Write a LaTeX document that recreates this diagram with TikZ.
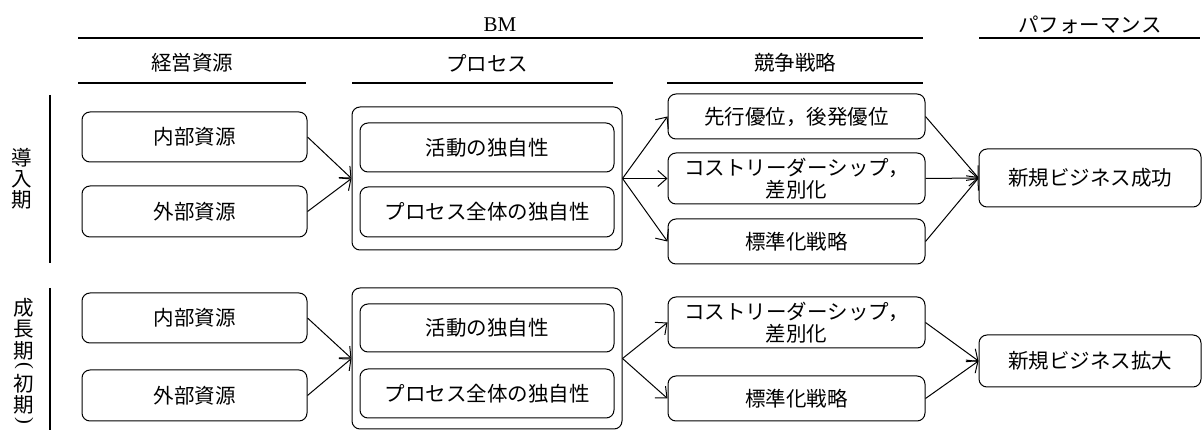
\documentclass[tikz,border=0pt]{standalone}
\usepackage{fontspec}
\setmainfont{Liberation Serif}
\newfontfamily\jp{Noto Sans CJK JP}
\usetikzlibrary{arrows.meta}
\tikzset{
  box/.style={draw, rounded corners=8pt, line width=1pt, inner sep=0pt, align=center,
    font=\jp\fontsize{20.5}{22}\selectfont},
  conn/.style={line width=1pt, -{Straight Barb[length=9pt,width=16pt,line width=1pt]}},
  rule/.style={line width=1.3pt},
  head/.style={font=\jp\fontsize{20.5}{22}\selectfont, inner sep=0pt},
  vlab/.style={font=\jp\fontsize{20.5}{22}\selectfont, inner sep=0pt}
}
\begin{document}
\begin{tikzpicture}[x=1pt,y=-1pt]
\useasboundingbox (0,0) rectangle (1203,430);
% headers
\node[head, font=\fontsize{21}{22}\selectfont] (hbm) at (500,25) {BM};
\draw[rule] (78,38) -- (923,38);
\node[head] (hperf) at (1090,25) {パフォーマンス};
\draw[rule] (979,38) -- (1200,38);
\node[head] (hres) at (192,63) {経営資源};
\draw[rule] (78,83) -- (306,83);
\node[head] (hproc) at (487,63) {プロセス};
\draw[rule] (352,83) -- (613,83);
\node[head] (hcomp) at (795,63) {競争戦略};
\draw[rule] (667,83) -- (923,83);
% period labels
\draw[rule] (50,95) -- (50,263);
\draw[rule] (50,288) -- (50,430);
\node[vlab] (l1) at (22,179) {\shortstack{導\\入\\期}};
\node[vlab] (l2) at (24,362) {\shortstack{成\\長\\期\\\rotatebox[origin=c]{-90}{\rmfamily(}\\初\\期\\\rotatebox[origin=c]{-90}{\rmfamily)}}};
% row 1
\node[box, minimum width=225pt, minimum height=50pt] (r1a) at (194.5,137) {内部資源};
\node[box, minimum width=225pt, minimum height=51pt] (r1b) at (194.5,211.5) {外部資源};
\node[box, minimum width=270pt, minimum height=143pt] (p1) at (487,178.5) {};
\node[box, minimum width=254pt, minimum height=49pt] (p1a) at (487,147.5) {活動の独自性};
\node[box, minimum width=254pt, minimum height=50pt] (p1b) at (487,212) {プロセス全体の独自性};
\node[box, minimum width=257pt, minimum height=45pt] (c1a) at (796.5,116.5) {先行優位，後発優位};
\node[box, minimum width=257pt, minimum height=51pt] (c1b) at (796.5,178.5) {コストリーダーシップ，\\差別化};
\node[box, minimum width=257pt, minimum height=45pt] (c1c) at (796.5,241.5) {標準化戦略};
\node[box, minimum width=222pt, minimum height=58pt] (n1) at (1090,178) {新規ビジネス成功};
\draw[conn] (r1a.east) -- (p1.west);
\draw[conn] (r1b.east) -- (p1.west);
\draw[conn] (p1.east) -- (c1a.west);
\draw[conn] (p1.east) -- (c1b.west);
\draw[conn] (p1.east) -- (c1c.west);
\draw[conn] (c1a.east) -- (n1.west);
\draw[conn] (c1b.east) -- (n1.west);
\draw[conn] (c1c.east) -- (n1.west);
% row 2
\node[box, minimum width=225pt, minimum height=50pt] (r2a) at (194.5,318) {内部資源};
\node[box, minimum width=225pt, minimum height=51pt] (r2b) at (194.5,395.5) {外部資源};
\node[box, minimum width=270pt, minimum height=141pt] (p2) at (487,358.5) {};
\node[box, minimum width=254pt, minimum height=48pt] (p2a) at (487,328) {活動の独自性};
\node[box, minimum width=254pt, minimum height=49pt] (p2b) at (487,393.5) {プロセス全体の独自性};
\node[box, minimum width=257pt, minimum height=51pt] (c2a) at (796.5,322.5) {コストリーダーシップ，\\差別化};
\node[box, minimum width=257pt, minimum height=45pt] (c2b) at (796.5,398.5) {標準化戦略};
\node[box, minimum width=222pt, minimum height=52pt] (n2) at (1090,361) {新規ビジネス拡大};
\draw[conn] (r2a.east) -- (p2.west);
\draw[conn] (r2b.east) -- (p2.west);
\draw[conn] (p2.east) -- (c2a.west);
\draw[conn] (p2.east) -- (c2b.west);
\draw[conn] (c2a.east) -- (n2.west);
\draw[conn] (c2b.east) -- (n2.west);
\end{tikzpicture}
\end{document}
